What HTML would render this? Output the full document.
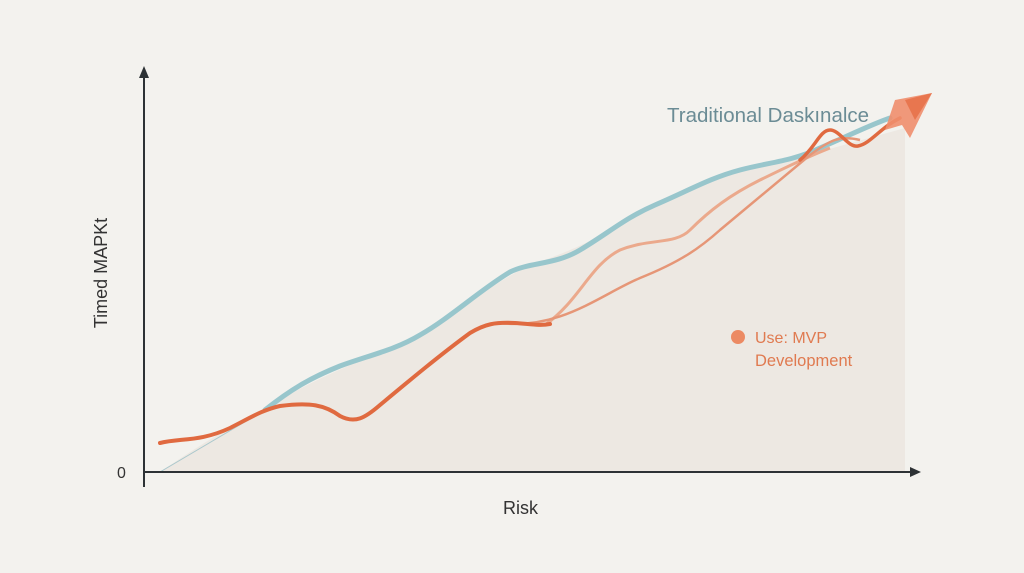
<!DOCTYPE html>
<html><head><style>
body{margin:0;background:#f3f2ee;}
svg{display:block;font-family:"Liberation Sans",sans-serif;}
</style></head><body>
<svg width="1024" height="573" viewBox="0 0 1024 573">
<rect width="1024" height="573" fill="#f3f2ee"/>
<path d="M160,472 C200,445 240,420 265,410 C300,385 360,360 400,345 C440,325 480,290 530,265 C560,255 600,240 640,210 C680,190 720,175 790,160 L905,128 L905,472 Z" fill="#ebe6df" opacity="0.85"/>
<path d="M160,472 L265,410" stroke="#a9c7cc" stroke-width="1" fill="none"/>
<path d="M265,410 C290,390 310,378 340,366 C370,355 395,350 420,335 C450,318 480,290 510,272 C530,262 555,265 580,250 C610,232 625,218 655,205 C690,190 710,178 740,170 C770,162 790,162 820,148 C850,135 870,125 890,118" stroke="#98c6cc" stroke-width="5" fill="none" stroke-linecap="round"/>
<path d="M545,325 C580,300 590,265 620,250 C650,238 675,245 690,230 C710,210 730,195 760,180 C785,168 800,160 830,148" stroke="#eba98c" stroke-width="3" fill="none"/>
<path d="M500,323 C560,330 600,295 640,278 C680,262 700,248 720,230 C750,205 780,180 810,155 C830,140 840,135 860,140" stroke="#e69677" stroke-width="2.5" fill="none"/>
<path d="M160,443 C180,438 200,442 230,428 C250,418 262,410 280,406 C310,402 325,405 340,416 C355,424 365,418 380,405 C410,380 440,355 470,333 C485,324 495,322 515,323 C530,324 540,326 550,324" stroke="#e06a40" stroke-width="4" fill="none" stroke-linecap="round"/>
<path d="M800,160 C815,148 820,130 830,130 C840,130 848,148 858,146 C870,144 880,128 900,118" stroke="#e06a40" stroke-width="3.5" fill="none" stroke-linecap="round"/>
<polygon points="895,100 932,93 910,138 902,125 885,130" fill="#ef8e6d" opacity="0.9"/>
<polygon points="905,100 932,93 915,120" fill="#e8764f"/>
<line x1="144" y1="70" x2="144" y2="487" stroke="#2d3235" stroke-width="2"/>
<polygon points="139,78 144,66 149,78" fill="#2d3235"/>
<line x1="144" y1="472" x2="915" y2="472" stroke="#2d3235" stroke-width="2"/>
<polygon points="910,467 921,472 910,477" fill="#2d3235"/>
<text x="667" y="122" font-size="20.5" fill="#6b8c95">Traditional Daskınalce</text>
<circle cx="738" cy="337" r="7" fill="#ec8a63"/>
<text x="755" y="343" font-size="16" fill="#e07a50">Use: MVP</text>
<text x="755" y="366" font-size="16.5" fill="#e07a50">Development</text>
<text x="117" y="478" font-size="16" fill="#333">0</text>
<text x="503" y="514" font-size="18" fill="#333">Risk</text>
<text transform="translate(107,273) rotate(-90)" text-anchor="middle" font-size="18" fill="#333">Timed MAPKt</text>
</svg>
</body></html>
